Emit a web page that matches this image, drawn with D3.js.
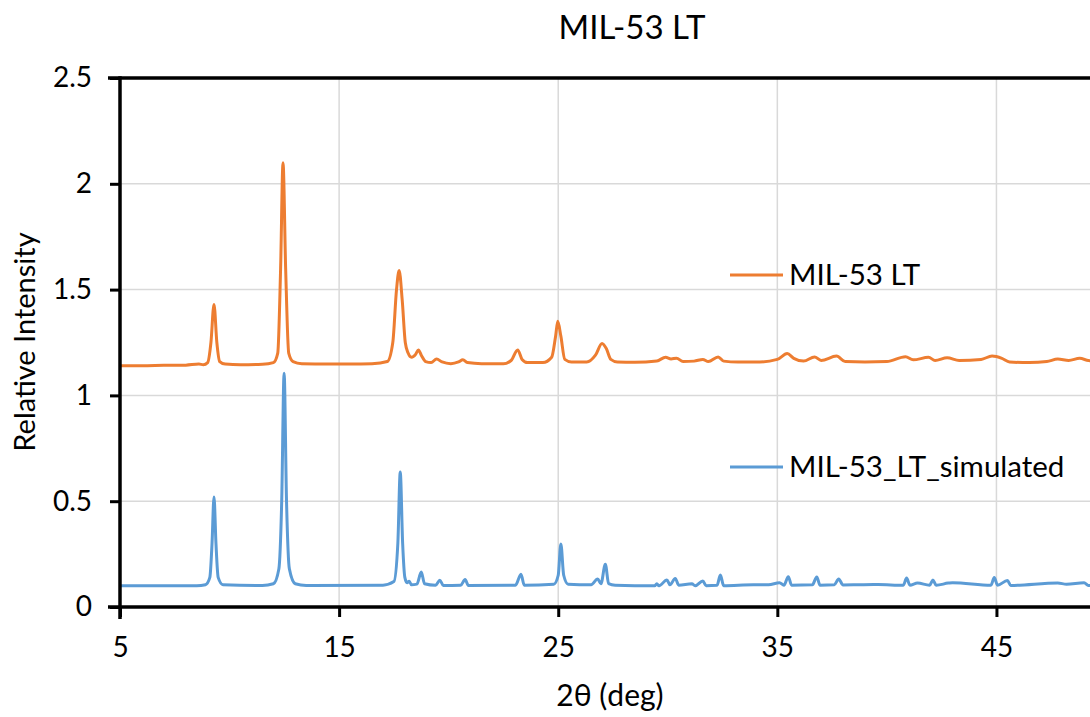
<!DOCTYPE html>
<html lang="en">
<head>
    <meta charset="UTF-8">
    <script src="https://d3js.org/d3.v7.min.js"></script>
    <style>
        body { margin: 0; background: #fff; }
        text { font-family: Lato, "Open Sans", sans-serif; fill: #000; }
        .grid line { stroke: #d9d9d9; stroke-width: 1.5px; }
    </style>
</head>
<body>
    <svg id="chart"></svg>
    <script>
        // MIL-53 LT measured pattern (2theta, relative intensity)
        const expX = [5, 6, 7, 8, 8.6, 8.8, 9.0, 9.15, 9.29, 9.42, 9.55, 9.8, 10.5, 11.5, 12.0, 12.2, 12.33, 12.44, 12.56, 12.7, 12.9, 13.3,
            14.5, 15.5, 16.5, 17.2, 17.45, 17.62, 17.74, 17.88, 18.02, 18.15, 18.3, 18.5, 18.62, 18.75, 18.95, 19.2, 19.45, 19.7,
            20.1, 20.45, 20.65, 20.85, 21.5, 22.5, 22.85, 23.15, 23.35, 23.6, 24.3, 24.7, 24.88, 24.98, 25.12, 25.3, 25.6, 26.3,
            26.7, 27.0, 27.2, 27.4, 27.7, 28.5, 29.5, 29.9, 30.15, 30.4, 30.7, 31.2, 31.6, 31.85, 32.3, 32.55, 33.2, 34.2, 35.0,
            35.45, 35.75, 36.2, 36.7, 37.0, 37.7, 38.1, 39.0, 40.0, 40.85, 41.2, 41.9, 42.2, 42.75, 43.3, 44.3, 44.8, 45.25, 45.6,
            46.5, 47.3, 47.8, 48.3, 48.8, 49.2, 50];
        const expY = [1.14, 1.14, 1.142, 1.143, 1.148, 1.145, 1.155, 1.25, 1.43, 1.25, 1.16, 1.148, 1.145, 1.147, 1.155, 1.2, 1.6, 2.1, 1.6, 1.2, 1.16, 1.15,
            1.148, 1.148, 1.15, 1.16, 1.25, 1.5, 1.59, 1.45, 1.25, 1.2, 1.18, 1.195, 1.215, 1.19, 1.16, 1.155, 1.172, 1.158,
            1.15, 1.158, 1.168, 1.155, 1.15, 1.15, 1.165, 1.215, 1.17, 1.155, 1.155, 1.18, 1.28, 1.35, 1.28, 1.17, 1.158, 1.158,
            1.19, 1.245, 1.22, 1.17, 1.158, 1.157, 1.163, 1.18, 1.172, 1.176, 1.16, 1.162, 1.17, 1.16, 1.182, 1.162, 1.158, 1.158, 1.17,
            1.198, 1.175, 1.162, 1.182, 1.165, 1.186, 1.16, 1.158, 1.16, 1.183, 1.168, 1.18, 1.165, 1.178, 1.165, 1.17, 1.186, 1.175, 1.158,
            1.155, 1.16, 1.172, 1.165, 1.175, 1.165, 1.16];

        // MIL-53_LT_simulated pattern
        const simX = [5, 8.5, 8.9, 9.1, 9.2, 9.29, 9.38, 9.48, 9.7, 11.5, 12.0, 12.25, 12.38, 12.49, 12.6, 12.73, 13.0, 13.5,
            17.0, 17.5, 17.68, 17.79, 17.9, 18.0, 18.1, 18.2, 18.3, 18.55, 18.75, 18.9, 19.4, 19.6, 19.75, 20.55, 20.75, 20.9,
            23.05, 23.3, 23.45, 24.8, 25.0, 25.12, 25.25, 25.45, 26.5, 26.8, 26.95, 27.15, 27.3, 27.6, 29.4, 29.5, 29.6, 29.96,
            30.1, 30.34, 30.5, 31.1, 31.25, 31.6, 31.75, 32.25, 32.4, 32.55, 33.9, 34.6, 35.1, 35.3, 35.5, 35.65, 36.6, 36.8,
            36.95, 37.6, 37.8, 38.0, 38.7, 39.4, 39.6, 40.75, 40.9, 41.05, 41.4, 41.95, 42.1, 42.25, 42.8, 43.0, 44.75, 44.9,
            45.05, 45.5, 45.65, 47.8, 48.2, 49.0, 49.2, 50];
        const simY = [0.1, 0.1, 0.105, 0.14, 0.3, 0.52, 0.3, 0.14, 0.105, 0.102, 0.11, 0.18, 0.5, 1.105, 0.5, 0.18, 0.11, 0.102,
            0.103, 0.12, 0.3, 0.638, 0.3, 0.14, 0.115, 0.122, 0.105, 0.108, 0.165, 0.11, 0.103, 0.127, 0.102, 0.103, 0.13, 0.102,
            0.103, 0.155, 0.103, 0.108, 0.15, 0.298, 0.15, 0.108, 0.105, 0.132, 0.11, 0.202, 0.11, 0.103, 0.1, 0.11, 0.1, 0.128,
            0.105, 0.135, 0.103, 0.11, 0.1, 0.123, 0.101, 0.103, 0.151, 0.101, 0.105, 0.105, 0.115, 0.103, 0.143, 0.103, 0.105, 0.142,
            0.103, 0.105, 0.132, 0.104, 0.105, 0.106, 0.106, 0.103, 0.137, 0.103, 0.113, 0.103, 0.128, 0.103, 0.113, 0.115, 0.103, 0.139,
            0.103, 0.125, 0.102, 0.113, 0.108, 0.115, 0.102, 0.1];

        const seriesNames = ["MIL-53 LT", "MIL-53_LT_simulated"];
        const seriesColors = ["#ED7D31", "#5B9BD5"];
        const xTicks = [5, 15, 25, 35, 45];
        const yTicks = [0, 0.5, 1, 1.5, 2, 2.5];

        const width = 1090, height = 717;
        const margin = { top: 78, left: 120, bottom: 110 };
        const plotRight = 1106;

        const svg = d3.select("#chart")
            .attr("width", width)
            .attr("height", height);

        const x = d3.scaleLinear().domain([5, 50]).range([margin.left, plotRight]);
        const y = d3.scaleLinear().domain([0, 2.5]).range([height - margin.bottom, margin.top]);

        svg.append("defs").append("clipPath").attr("id", "plot")
            .append("rect")
            .attr("x", margin.left).attr("y", margin.top - 2)
            .attr("width", plotRight - margin.left).attr("height", y(0) - margin.top + 2);

        // gridlines
        svg.append("g").attr("class", "grid")
            .selectAll("line").data(yTicks.filter(d => d > 0 && d < 2.5)).enter().append("line")
            .attr("x1", margin.left).attr("x2", plotRight)
            .attr("y1", d => y(d)).attr("y2", d => y(d));
        svg.append("g").attr("class", "grid")
            .selectAll("line").data(xTicks.filter(d => d > 5)).enter().append("line")
            .attr("x1", d => x(d)).attr("x2", d => x(d))
            .attr("y1", margin.top).attr("y2", y(0));

        // series
        const series = [
            expX.map((d, i) => [d, expY[i]]),
            simX.map((d, i) => [d, simY[i]])
        ];
        const line = d3.line()
            .x(d => x(d[0]))
            .y(d => y(d[1]))
            .curve(d3.curveMonotoneX);

        svg.append("g").attr("clip-path", "url(#plot)")
            .selectAll("path").data(series).enter().append("path")
            .attr("d", line)
            .attr("fill", "none")
            .attr("stroke", (d, i) => seriesColors[i])
            .attr("stroke-width", 3)
            .attr("stroke-linejoin", "round");

        // axes
        const xAxis = svg.append("g")
            .attr("transform", `translate(0,${y(0)})`)
            .call(d3.axisBottom(x).tickValues(xTicks).tickSize(10).tickSizeOuter(0).tickPadding(20));
        const yAxis = svg.append("g")
            .attr("transform", `translate(${margin.left},0)`)
            .call(d3.axisLeft(y).tickValues(yTicks).tickFormat(d => String(d)).tickSize(10).tickSizeOuter(0).tickPadding(18));

        [xAxis, yAxis].forEach(g => {
            g.select(".domain").attr("stroke", "#000").attr("stroke-width", 3.5);
            g.selectAll(".tick line").attr("stroke", "#000").attr("stroke-width", 3);
            g.selectAll(".tick text").style("font-size", "28px").attr("fill", "#000");
        });
        yAxis.select(".domain").attr("d", `M0,${y(0) + 12}V${margin.top - 1.75}`);
        xAxis.select(".domain").attr("d", `M${margin.left - 12},0H${plotRight}`);

        // top border
        svg.append("line")
            .attr("x1", margin.left - 12).attr("x2", plotRight)
            .attr("y1", margin.top).attr("y2", margin.top)
            .attr("stroke", "#000").attr("stroke-width", 3.5);

        // titles
        svg.append("text")
            .attr("x", 632).attr("y", 39)
            .attr("text-anchor", "middle")
            .style("font-size", "33px")
            .text("MIL-53 LT");

        svg.append("text")
            .attr("x", 610).attr("y", 706)
            .attr("text-anchor", "middle")
            .style("font-size", "30px")
            .text("2θ (deg)");

        svg.append("text")
            .attr("transform", `translate(35,342) rotate(-90)`)
            .attr("text-anchor", "middle")
            .style("font-size", "29px")
            .text("Relative Intensity");

        // legend inside plot
        const legendY = [275, 467];
        const legend = svg.selectAll(".legend").data(seriesNames).enter().append("g")
            .attr("class", "legend")
            .attr("transform", (d, i) => `translate(730,${legendY[i]})`);
        legend.append("line")
            .attr("x1", 0).attr("x2", 53)
            .attr("stroke", (d, i) => seriesColors[i])
            .attr("stroke-width", 3);
        legend.append("text")
            .attr("x", 59).attr("dy", "0.35em")
            .style("font-size", "29.5px")
            .text(d => d);
    </script>
</body>
</html>
